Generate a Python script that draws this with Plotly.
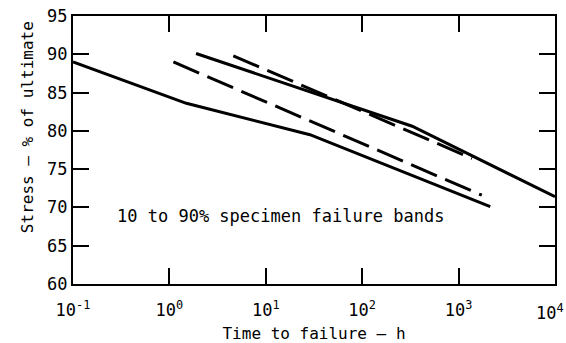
import plotly.graph_objects as go

# Data
lower_solid_x = [0.1, 0.63, 1.5, 28.7, 2130]
lower_solid_y = [89.0, 85.3, 83.6, 79.5, 70.1]

upper_solid_x = [1.89, 330, 10000]
upper_solid_y = [90.1, 80.6, 71.4]

lower_dash_x = [1.1, 1740]
lower_dash_y = [89.0, 71.6]

upper_dash_x = [4.6, 1380]
upper_dash_y = [89.8, 76.4]

x_tickvals = [0.1, 1, 10, 100, 1000, 10000]
x_ticktext = ["10<sup>-1</sup>", "10<sup>0</sup>", "10<sup>1</sup>",
              "10<sup>2</sup>", "10<sup>3</sup>", ""]
last_tick_label = "10<sup>4</sup>"
y_tickvals = [60, 65, 70, 75, 80, 85, 90, 95]

FONT = "DejaVu Sans Mono"
LW = 3

fig = go.Figure()
fig.add_trace(go.Scatter(x=lower_solid_x, y=lower_solid_y, mode="lines",
                         line=dict(color="black", width=LW)))
fig.add_trace(go.Scatter(x=upper_solid_x, y=upper_solid_y, mode="lines",
                         line=dict(color="black", width=LW)))
fig.add_trace(go.Scatter(x=lower_dash_x, y=lower_dash_y, mode="lines",
                         line=dict(color="black", width=LW, dash="28px,9px")))
fig.add_trace(go.Scatter(x=upper_dash_x, y=upper_dash_y, mode="lines",
                         line=dict(color="black", width=LW, dash="28px,9px")))

fig.update_layout(
    width=566, height=343,
    margin=dict(l=73, r=11, t=16, b=59),
    plot_bgcolor="white", paper_bgcolor="white",
    showlegend=False,
    font=dict(family=FONT, size=16, color="black"),
)
fig.update_xaxes(
    type="log", range=[-1, 4], automargin=False,
    tickvals=x_tickvals, ticktext=x_ticktext,
    ticks="inside", ticklen=16, tickwidth=1.5, tickcolor="black",
    showline=True, linecolor="black", linewidth=2, mirror="ticks",
    showgrid=False, zeroline=False,
    tickfont=dict(family=FONT, size=17),
    ticklabelstandoff=10, ticklabeloverflow="allow",
    title=dict(text="Time to failure — h", font=dict(family=FONT, size=16), standoff=8),
)
fig.update_yaxes(
    range=[60, 95], automargin=False,
    tickvals=y_tickvals,
    ticks="inside", ticklen=16, tickwidth=1.5, tickcolor="black",
    showline=True, linecolor="black", linewidth=2, mirror="ticks",
    showgrid=False, zeroline=False,
    tickfont=dict(family=FONT, size=17),
)
fig.add_annotation(
    text=last_tick_label,
    xref="paper", yref="paper", x=(566 - 73) / 482, y=0,
    xanchor="right", yanchor="top", yshift=-15, showarrow=False,
    font=dict(family=FONT, size=17),
)
fig.add_annotation(
    text="Stress – % of ultimate", textangle=-90,
    xref="paper", yref="paper", x=-0.093, y=0.586,
    xanchor="center", yanchor="middle", showarrow=False,
    font=dict(family=FONT, size=16),
)
fig.add_annotation(
    text="10 to 90% specimen failure bands",
    xref="paper", yref="paper", x=0.087, y=0.254,
    xanchor="left", yanchor="middle", showarrow=False,
    font=dict(family=FONT, size=17),
)

fig.write_html("out.html")
